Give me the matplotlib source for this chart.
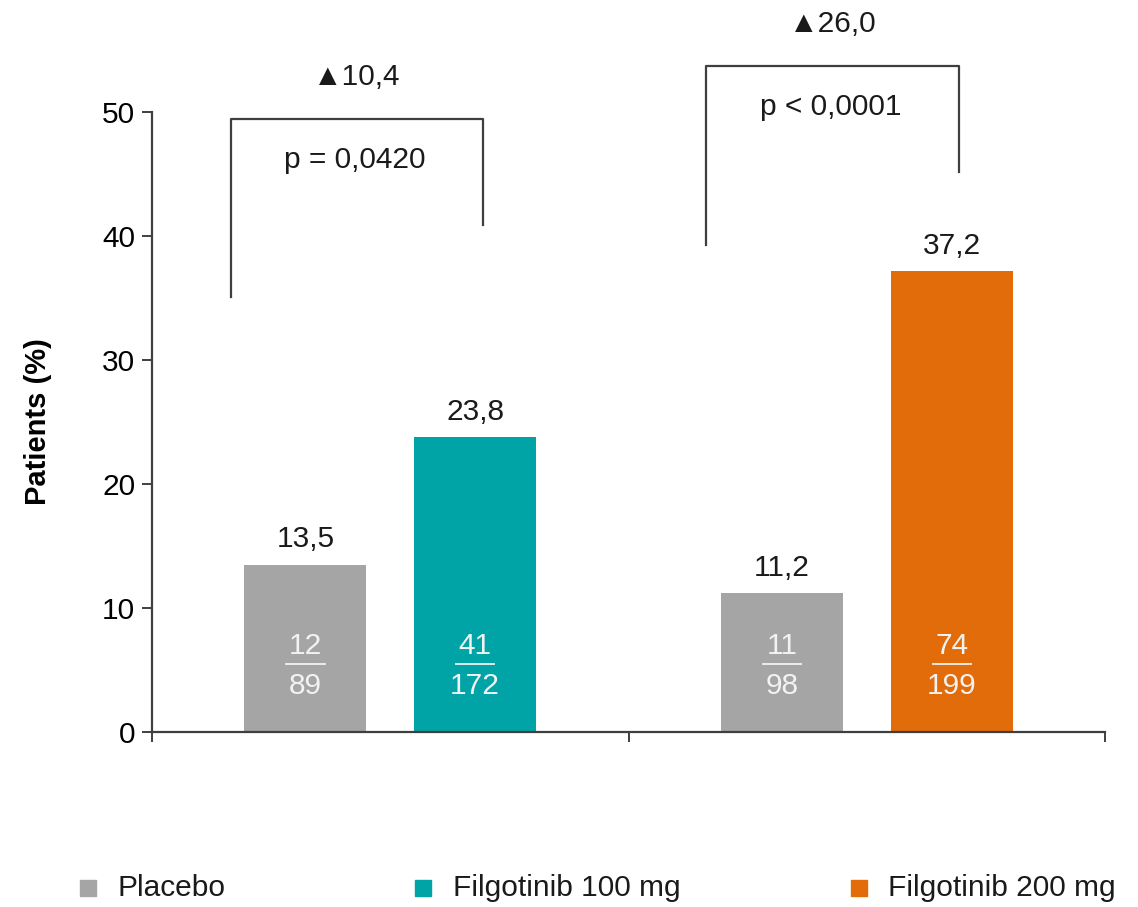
import matplotlib.pyplot as plt
from matplotlib.lines import Line2D

# data
placebo = [13.5, 11.2]
filgotinib = [23.8, 37.2]
placebo_n = [(12, 89), (11, 98)]
filgotinib_n = [(41, 172), (74, 199)]
deltas = ["\u25b210,4", "\u25b226,0"]
p_values = ["p = 0,0420", "p < 0,0001"]
labels = ["Placebo", "Filgotinib 100 mg", "Filgotinib 200 mg"]

GREY = "#A5A5A5"
TEAL = "#00A4A6"
ORANGE = "#E36C0A"
DARK = "#3F3F3F"
colors = [GREY, TEAL, ORANGE]

plt.rcParams["font.family"] = ["Liberation Sans", "DejaVu Sans"]
FS = 21.5

fig = plt.figure(figsize=(11.38, 9.07), dpi=100)
ax = fig.add_axes([0.1336, 0.193, 0.8374, 0.6835])

centers = [0.5, 1.5]
off = 0.178
width = 0.256

for i, c in enumerate(centers):
    xs = [c - off, c + off]
    vals = [placebo[i], filgotinib[i]]
    cols = [GREY, TEAL if i == 0 else ORANGE]
    ns = [placebo_n[i], filgotinib_n[i]]
    ax.bar(xs, vals, width=width, color=cols, zorder=2)
    for x, v, (k, n) in zip(xs, vals, ns):
        ax.text(x, v + 0.9, f"{v:.1f}".replace(".", ","), ha="center",
                va="bottom", fontsize=FS, color="#1a1a1a")
        ax.text(x, 6.9, str(k), ha="center", va="center", fontsize=FS,
                color="#F2F2F2", zorder=3)
        ax.plot([x - 0.04, x + 0.04], [5.5, 5.5], color="#F2F2F2",
                lw=1.3, zorder=3)
        ax.text(x, 3.7, str(n), ha="center", va="center", fontsize=FS,
                color="#F2F2F2", zorder=3)

# significance brackets
brackets = [
    (0.166, 0.695, 35.1, 49.4, 40.9),
    (1.163, 1.694, 39.3, 53.7, 45.2),
]
for i, (x0, x1, y0, ytop, y1) in enumerate(brackets):
    ax.plot([x0, x0, x1, x1], [y0, ytop, ytop, y1], color=DARK, lw=1.6,
            clip_on=False, zorder=1)
    xm = (x0 + x1) / 2
    ax.text(xm, ytop + 3.4, deltas[i], ha="center", va="center",
            fontsize=FS, color="#1a1a1a")
    ax.text(xm - 0.005, ytop - 3.3, p_values[i], ha="center", va="center",
            fontsize=FS, color="#1a1a1a")

ax.set_xlim(0, 2)
ax.set_ylim(0, 50)
ax.set_yticks([0, 10, 20, 30, 40, 50])
ax.set_xticks([0, 1, 2])
ax.set_xticklabels([])
ax.tick_params(axis="y", labelsize=FS, length=7, width=1.4, color=DARK,
               pad=5, direction="out")
ax.tick_params(axis="x", length=7, width=1.4, color=DARK, direction="out")
for side in ["top", "right"]:
    ax.spines[side].set_visible(False)
for side in ["left", "bottom"]:
    ax.spines[side].set_color(DARK)
    ax.spines[side].set_linewidth(1.6)

ax.set_ylabel("Patients (%)", fontsize=21, fontweight="bold")
ax.yaxis.set_label_coords(-0.105, 0.5)

# legend placed by hand to match the spacing
legend_x = [0.0773, 0.372, 0.7545]
for x, lab, col in zip(legend_x, labels, colors):
    fig.add_artist(Line2D([x], [0.021], marker="s", markersize=12,
                          color=col, linestyle="none",
                          transform=fig.transFigure))
    fig.text(x + 0.026, 0.021, lab, ha="left", va="center", fontsize=FS,
             color="#1a1a1a")

fig.savefig("out.png", dpi=100)
